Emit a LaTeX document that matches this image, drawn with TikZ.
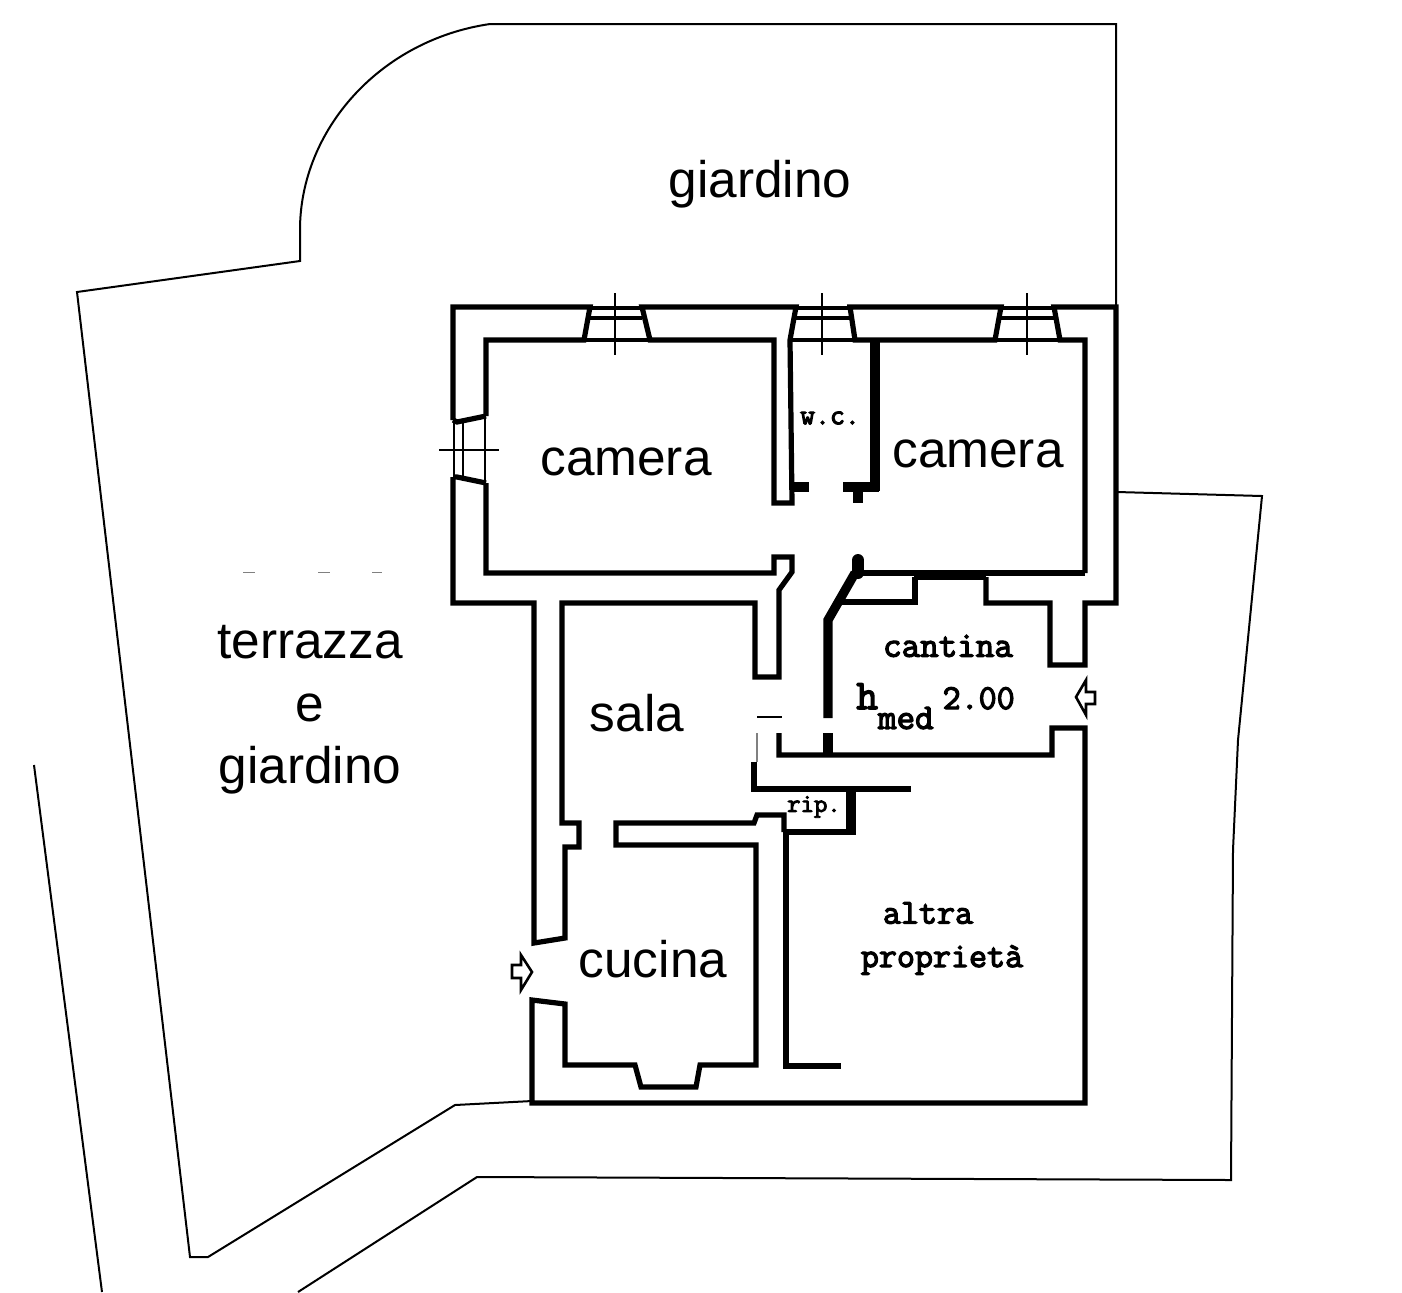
\documentclass[tikz,border=0pt]{standalone}
\usepackage{fontspec}
\setmainfont{Liberation Sans}
\newfontfamily\stampfont[FakeBold=3.5]{Latin Modern Mono}
\tikzset{
  wall/.style={black,line width=2.6pt,line join=miter},
  thickwall/.style={black,line width=4.6pt},
  winline/.style={black,line width=1.6pt},
  plotline/.style={black,line width=1pt},
  roomlabel/.style={inner sep=0pt,font=\fontsize{25.7}{31}\selectfont,align=center},
  oldlabel/.style={inner sep=0pt,font=\fontsize{17.5}{20}\stampfont\selectfont},
}
\begin{document}
\begin{tikzpicture}[x=0.5pt,y=-0.5pt]
  \useasboundingbox (0,0) rectangle (1402,1292);
  % plot boundary
  \draw[plotline] (532,1101)--(455,1105)--(208,1257)--(190,1257)--(77,292)--(300,261)--(300,230)
    .. controls (300,130) and (380,40) .. (490,24)--(1116,24)--(1116,307);
  \draw[plotline] (34,765)--(102,1292);
  \draw[plotline] (298,1292)--(477,1177)--(1231,1180)--(1233,850)--(1238,740)--(1262,496)--(1117,492);
  \draw[gray,line width=0.5pt] (243,572)--(255,572);
  \draw[gray,line width=0.5pt] (318,572)--(330,572);
  \draw[gray,line width=0.5pt] (372,572)--(382,572);

  % walls
  \draw[wall] (453,420)--(453,307)--(590,307)--(584,340)--(486,340)--(486,416);
  \draw[wall] (453,477)--(453,603)--(534,603)--(534,943)--(565,938)--(565,847)--(579,847)--(579,823)
    --(562,823)--(562,603)--(755,603)--(755,677)--(779,677)--(779,590)--(792,572)--(792,557)
    --(774,557)--(774,573)--(486,573)--(486,483);
  \draw[wall] (642,307)--(796,307)--(790,340)--(792,503)--(774,503)--(774,340)--(650,340)--cycle;
  \draw[wall] (850,307)--(1001,307)--(995,340)--(855,340)--cycle;
  \draw[wall] (1085,573)--(1085,340)--(1060,340)--(1054,307)--(1116,307)--(1116,603)--(1085,603)
    --(1085,665)--(1050,665)--(1050,603)--(986,603)--(986,577);
  \draw[wall] (1085,573)--(855,573);
  \draw[wall] (840,602)--(915,602)--(915,577);
  \draw[wall] (779,733)--(779,755)--(1052,755)--(1052,728)--(1085,728)--(1085,1103)--(532,1103)
    --(532,1000)--(565,1004)--(565,1065)--(635,1065)--(641,1087)--(696,1087)--(700,1065)--(756,1065)
    --(756,845)--(616,845)--(616,823)--(754,823)--(757,815)--(784,815)--(784,832);
  \draw[wall] (754,762)--(754,789)--(911,789);
  \draw[wall] (786,832)--(786,1066)--(841,1066);

  % thick walls
  \draw[thickwall] (875,340)--(875,491);
  \draw[thickwall] (843,487)--(879,487);
  \draw[thickwall] (792,487)--(809,487);
  \draw[thickwall] (858,487)--(858,503);
  \draw[thickwall] (855,573)--(828,620)--(828,718);
  \draw[thickwall] (828,733)--(828,755);
  \draw[thickwall] (851,789)--(851,835);
  \draw[thickwall,line width=3.4pt] (784,832)--(855,832);
  \draw[thickwall,line width=3.4pt] (914,577)--(986,577);
  \draw[thickwall,line width=6pt,line cap=round] (858,560)--(858,573);

  % windows
  \draw[winline] (590,308)--(642,308);
  \draw[winline] (590,318)--(642,318);
  \draw[winline] (584,340)--(650,340);
  \draw[plotline,line width=1.2pt] (615,293)--(615,355);
  \draw[winline] (796,308)--(850,308);
  \draw[winline] (796,318)--(850,318);
  \draw[winline] (790,340)--(855,340);
  \draw[plotline,line width=1.2pt] (822,293)--(822,355);
  \draw[winline] (1001,308)--(1054,308);
  \draw[winline] (1001,318)--(1054,318);
  \draw[winline] (995,340)--(1060,340);
  \draw[plotline,line width=1.2pt] (1027,293)--(1027,355);
  \draw[wall] (453,420)--(457,422)--(486,416);
  \draw[wall] (453,477)--(457,477)--(486,483);
  \draw[plotline] (454,420)--(454,477);
  \draw[plotline] (463,422)--(463,477);
  \draw[plotline] (485,416)--(485,483);
  \draw[plotline] (439,450)--(499,450);

  % gap marks
  \draw[plotline] (757,717)--(782,717);
  \draw[gray,line width=0.6pt] (757,733)--(757,762);

  % door arrows
  \draw[wall,line width=1.3pt] (1076,697)--(1086,680)--(1086,692)--(1095,692)--(1095,704)--(1086,704)--(1086,715)--cycle;
  \draw[wall,line width=1.3pt] (532,972)--(521,955)--(521,965)--(512,965)--(512,978)--(521,978)--(521,990)--cycle;

  \node[roomlabel] (lblgiardino) at (760,184) {giardino};
  \node[roomlabel] (lblcameraa) at (626,462) {camera};
  \node[roomlabel] (lblcamerab) at (978,454) {camera};
  \node[roomlabel] (lblterrazza) at (310,642) {terrazza};
  \node[roomlabel] (lble) at (310,708) {e};
  \node[roomlabel] (lblgiardinob) at (310,770) {giardino};
  \node[roomlabel] (lblsala) at (637,713) {sala};
  \node[roomlabel] (lblcucina) at (653,959) {cucina};
  \node[oldlabel,font=\fontsize{14.5}{18}\stampfont\selectfont] (lblwc) at (830,418) {w.c.};
  \node[oldlabel,font=\fontsize{18}{20}\stampfont\selectfont] (lblcantina) at (948,646) {cantina};
  \node[oldlabel,anchor=base west,font=\fontsize{21}{24}\stampfont\selectfont] (lblh) at (856,709)
    {h\raisebox{-1.1ex}{\fontsize{18}{20}\selectfont med}\hspace{4.5pt}{\fontsize{17.5}{20}\selectfont 2.00}};
  \node[oldlabel,font=\fontsize{13}{18}\stampfont\selectfont] (lblrip) at (814,807) {rip.};
  \node[oldlabel] (lblaltra) at (928,913) {altra};
  \node[oldlabel] (lblprop) at (942,960) {proprietà};
\end{tikzpicture}
\end{document}
